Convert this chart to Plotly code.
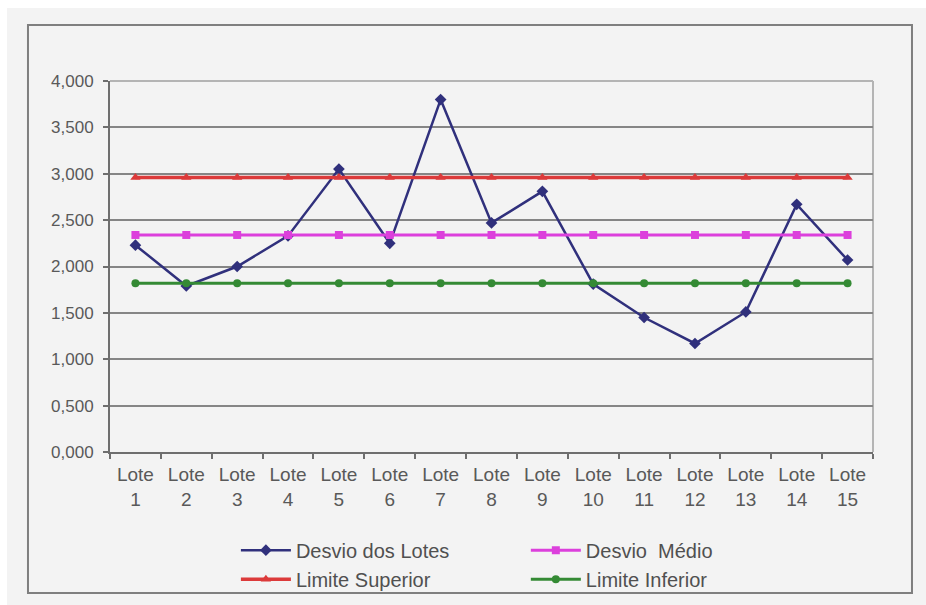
import plotly.graph_objects as go

# Lotes avaliados
lotes = ["Lote 1", "Lote 2", "Lote 3", "Lote 4", "Lote 5", "Lote 6", "Lote 7", "Lote 8",
         "Lote 9", "Lote 10", "Lote 11", "Lote 12", "Lote 13", "Lote 14", "Lote 15"]

# Desvio medido em cada lote
desvio_lotes = [2.23, 1.79, 2.00, 2.33, 3.05, 2.25, 3.80, 2.47, 2.81, 1.81, 1.45, 1.17, 1.51, 2.67, 2.07]

# Linha central e limites de controle
desvio_medio = [2.34, 2.34, 2.34, 2.34, 2.34, 2.34, 2.34, 2.34, 2.34, 2.34, 2.34, 2.34, 2.34, 2.34, 2.34]
limite_superior = [2.96, 2.96, 2.96, 2.96, 2.96, 2.96, 2.96, 2.96, 2.96, 2.96, 2.96, 2.96, 2.96, 2.96, 2.96]
limite_inferior = [1.82, 1.82, 1.82, 1.82, 1.82, 1.82, 1.82, 1.82, 1.82, 1.82, 1.82, 1.82, 1.82, 1.82, 1.82]

y_ticks = [0, 0.5, 1.0, 1.5, 2.0, 2.5, 3.0, 3.5, 4.0]

x = list(range(1, len(lotes) + 1))
tick_text = [name.replace(" ", "<br>") for name in lotes]

FONT = "Liberation Sans, Arial, sans-serif"
BG = "#f3f3f3"

fig = go.Figure()

fig.add_trace(go.Scatter(
    x=x, y=desvio_lotes, name="Desvio dos Lotes", mode="lines+markers",
    line=dict(color="#30307c", width=2.5),
    marker=dict(symbol="diamond", size=9, color="#30307c"),
    legend="legend",
))
fig.add_trace(go.Scatter(
    x=x, y=desvio_medio, name="Desvio  Médio", mode="lines+markers",
    line=dict(color="#dc40dc", width=3),
    marker=dict(symbol="square", size=8, color="#dc40dc"),
    legend="legend2",
))
fig.add_trace(go.Scatter(
    x=x, y=limite_superior, name="Limite Superior", mode="lines+markers",
    line=dict(color="#dc3a3a", width=3.5),
    marker=dict(symbol="triangle-up", size=9, color="#dc3a3a"),
    legend="legend",
))
fig.add_trace(go.Scatter(
    x=x, y=limite_inferior, name="Limite Inferior", mode="lines+markers",
    line=dict(color="#348a34", width=3),
    marker=dict(symbol="circle", size=8, color="#348a34"),
    legend="legend2",
))

legend_style = dict(
    orientation="v", yanchor="top", xanchor="left",
    bgcolor="rgba(0,0,0,0)", borderwidth=0,
    font=dict(family=FONT, size=20, color="#505050"),
    itemwidth=50, tracegroupgap=0, traceorder="normal",
)

fig.update_layout(
    width=926, height=605,
    margin=dict(l=110, r=53, t=81, b=153, autoexpand=False),
    paper_bgcolor=BG, plot_bgcolor=BG,
    separators=",.",
    font=dict(family=FONT, color="#595959"),
    legend=dict(x=0.165, y=-0.212, **legend_style),
    legend2=dict(x=0.545, y=-0.212, **legend_style),
    xaxis=dict(
        range=[0.5, 15.5], tickmode="array", tickvals=x, ticktext=tick_text,
        ticks="", showgrid=False, zeroline=False, ticklabelstandoff=4,
        automargin=False,
        showline=True, linecolor="#6e6e6e", linewidth=2,
        tickfont=dict(family=FONT, size=19, color="#595959"),
        minor=dict(tickmode="linear", tick0=0.5, dtick=1, ticks="outside",
                   ticklen=5, tickwidth=2, tickcolor="#6e6e6e", showgrid=False),
        fixedrange=True,
    ),
    yaxis=dict(
        range=[0, 4], tickmode="array", tickvals=y_ticks, tickformat=".3f",
        ticks="outside", ticklen=5, tickwidth=2, tickcolor="#6e6e6e",
        showgrid=True, gridcolor="#858585", gridwidth=2, zeroline=False,
        showline=True, linecolor="#6e6e6e", linewidth=2, ticklabelstandoff=6,
        automargin=False,
        tickfont=dict(family=FONT, size=17, color="#595959"),
        fixedrange=True,
    ),
    shapes=[
        # borda clara da área de plotagem (topo e direita)
        dict(type="line", xref="paper", yref="paper", x0=0, x1=1, y0=1, y1=1,
             line=dict(color="#b4b4b4", width=2), layer="between"),
        dict(type="line", xref="paper", yref="paper", x0=1, x1=1, y0=0, y1=1,
             line=dict(color="#b4b4b4", width=2), layer="between"),
        # moldura externa do gráfico
        dict(type="rect", xref="paper", yref="paper",
             x0=-0.1075, x1=1.0511, y0=-0.380, y1=1.151,
             line=dict(color="#7f7f7f", width=2), layer="below"),
        # faixas brancas nas bordas superior e esquerda da página
        dict(type="rect", xref="paper", yref="paper",
             x0=-0.2, x1=1.2, y0=1.197, y1=1.3,
             line=dict(width=0), fillcolor="white", layer="below"),
        dict(type="rect", xref="paper", yref="paper",
             x0=-0.2, x1=-0.135, y0=-0.5, y1=1.3,
             line=dict(width=0), fillcolor="white", layer="below"),
    ],
)

fig.write_html("out.html")
